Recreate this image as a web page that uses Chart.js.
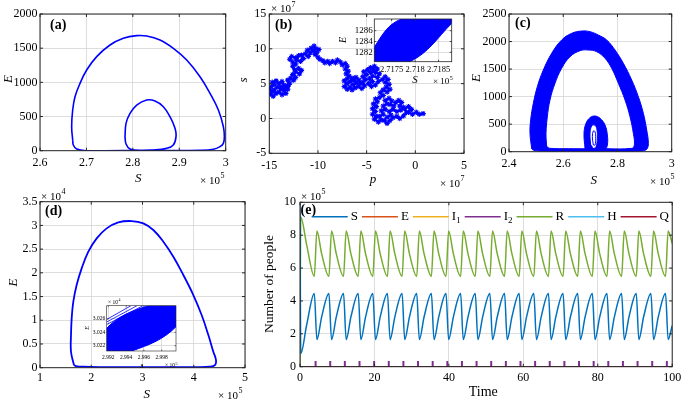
<!DOCTYPE html>
<html>
<head>
<meta charset="utf-8">
<script src="https://cdn.jsdelivr.net/npm/chart.js"></script>
<style>
body { margin: 0; background: #fff; }
#wrap { position: relative; width: 685px; height: 400px; }
canvas { position: absolute; left: 0; top: 0; }
</style>
</head>
<body>
<div id="wrap">
  <canvas id="ca" width="685" height="400"></canvas>
  <canvas id="cb" width="685" height="400"></canvas>
  <canvas id="cbi" width="685" height="400"></canvas>
  <canvas id="cc" width="685" height="400"></canvas>
  <canvas id="cd" width="685" height="400"></canvas>
  <canvas id="cdi" width="685" height="400"></canvas>
  <canvas id="ce" width="685" height="400"></canvas>
</div>
<script>
const SERIF = "'Liberation Serif', 'Times New Roman', serif";
const BLUE = '#0000ff';
const GRID = '#d4d4d4';

// (a) two closed orbits, S in units of 1e5
const aTicksS = [2.6, 2.7, 2.8, 2.9, 3];
const aTicksE = [0, 500, 1000, 1500, 2000];
const aOuterS = [2.6704, 2.6682, 2.6704, 2.6754, 2.6862, 2.7005, 2.7221, 2.7508, 2.7795, 2.8083, 2.8298, 2.8585, 2.8873, 2.9160, 2.9447, 2.9662, 2.9842, 2.9950, 2.9971, 2.9950, 2.9878, 2.9734, 2.9447, 2.86, 2.78, 2.7005, 2.6790, 2.6718, 2.6704];
const aOuterE = [156, 351, 595, 790, 985, 1180, 1376, 1546, 1644, 1683, 1678, 1620, 1498, 1327, 1083, 839, 595, 351, 205, 107, 59, 20, 5, 2, 1, 0, 24, 83, 156];
const aInnerS = [2.7831, 2.7853, 2.7939, 2.8083, 2.8298, 2.8477, 2.8657, 2.8800, 2.8908, 2.8930, 2.8872, 2.8729, 2.8441, 2.8083, 2.7939, 2.7853, 2.7831];
const aInnerE = [205, 400, 546, 668, 741, 727, 644, 498, 327, 205, 83, 34, 10, 5, 24, 98, 205];

// (b) random walk, both axes in units of 1e7
const bTicksP = [-15, -10, -5, 0, 5];
const bTicksS = [-5, 0, 5, 10, 15];
const walkP = [
  -13.0, -13.3, -13.1, -13.5, -13.3, -13.7, -14.0, -13.8, -14.2, -14.5, -14.3, -14.6, -14.9,
  -14.7, -15.0, -14.8, -14.5, -14.7, -14.3, -14.0, -13.7, -13.5, -13.8, -13.4, -13.1, -12.9,
  -13.1, -12.8, -12.5, -12.3, -12.6, -12.3, -11.9, -11.7, -12.0, -12.4, -12.6, -12.3,
  -12.6, -12.9, -12.7, -12.3, -12.0, -12.2, -11.8, -11.5, -11.7, -11.3, -11.0,
  -10.8, -11.1, -10.7, -10.4, -10.2, -10.5, -10.1, -9.9, -10.3, -10.0, -9.8,
  -9.5, -9.3, -9.0, -8.8, -8.5, -8.2, -8.0, -7.7, -7.5, -7.2, -7.0, -7.2, -6.9, -7.1,
  -6.8, -7.0, -7.3, -7.0, -7.3, -7.0, -6.7, -6.5, -6.2, -6.4, -6.0, -6.3, -6.7,
  -6.5, -6.1, -5.8, -5.6, -5.9, -5.5, -5.2, -5.4, -5.1, -5.4, -5.0, -5.3, -4.9,
  -4.6, -4.3, -4.6, -4.2, -3.9, -4.1, -3.7, -3.9, -4.4, -4.7, -4.4, -4.8, -4.5,
  -4.1, -3.8, -3.4, -3.1, -2.8, -3.1, -2.7, -3.0, -2.6, -2.9, -3.3, -3.6, -3.3,
  -3.7, -4.1, -3.9, -4.3, -4.0, -4.4, -4.1, -4.4, -4.0, -4.2, -3.8, -3.5, -3.7,
  -3.3, -3.5, -3.1, -3.3, -2.9, -3.1, -2.7, -2.4, -2.6, -2.2, -2.0, -1.7, -1.4,
  -1.6, -1.2, -1.5, -1.9, -2.3, -2.7, -2.5, -2.9, -3.2, -2.9, -2.6, -2.3, -1.9,
  -1.6, -1.2, -0.9, -1.1, -0.7, -0.4, -0.7, -0.3, 0.1, 0.4, 0.8];
const walkS = [
  4.9, 4.6, 4.2, 4.0, 3.6, 3.4, 3.8, 4.3, 4.5, 4.1, 3.6, 3.2, 3.5,
  3.9, 4.2, 4.6, 4.9, 5.2, 5.4, 5.0, 5.3, 4.8, 4.5, 4.3, 4.6, 5.1,
  5.5, 5.8, 5.5, 5.9, 6.3, 6.7, 6.4, 6.9, 7.2, 7.0, 7.5, 7.8,
  8.1, 8.5, 8.9, 8.7, 9.0, 8.4, 8.2, 8.6, 9.1, 9.3, 8.9,
  9.4, 9.8, 10.1, 10.4, 10.0, 9.7, 9.5, 9.9, 9.2, 8.8, 8.5,
  8.3, 8.0, 8.2, 7.9, 8.2, 8.0, 8.4, 8.1, 7.7, 7.9, 7.5, 7.1, 6.8, 6.4,
  6.1, 5.7, 5.4, 5.0, 4.6, 4.2, 4.5, 4.1, 4.4, 4.9, 5.1, 5.5, 5.3,
  5.8, 5.9, 5.5, 5.0, 4.6, 4.3, 4.7, 5.2, 5.6, 6.0, 6.3, 6.7, 7.0,
  6.6, 7.0, 7.3, 7.5, 7.1, 6.6, 6.4, 5.9, 6.1, 5.7, 5.3, 5.0, 4.6,
  4.8, 5.3, 5.6, 6.0, 5.6, 5.2, 4.9, 4.5, 4.2, 3.8, 4.1, 3.7, 3.3,
  3.0, 2.8, 2.4, 2.1, 1.7, 1.4, 1.0, 0.6, 0.3, -0.1, -0.5, -0.2, 0.3,
  0.6, 1.1, 1.3, 1.8, 2.1, 2.6, 2.9, 2.5, 2.0, 1.8, 2.3, 2.6, 2.3,
  1.8, 1.6, 1.2, 1.0, 1.3, 1.0, 0.5, 0.2, -0.3, -0.7, -0.3, 0.1, 0.3,
  0.0, 0.4, 0.9, 1.4, 1.7, 1.3, 0.9, 0.6, 0.9, 0.6, 0.7];

// (b) inset
const biTicksS = [2.7175, 2.718, 2.7185];
const biTicksE = [1282, 1284, 1286];
const biBandS = [2.71713, 2.71789, 2.71878, 2.71878, 2.71771, 2.71713, 2.71713];
const biBandE = [1280.26, 1280.26, 1287.37, 1288.17, 1288.17, 1282.93, 1280.26];
const biGapS = [[2.71736, 2.71823], [2.71759, 2.71847], [2.71783, 2.71870]];
const biGapE = [1280.26, 1288.17];

// (c) thick band of orbits
const cTicksS = [2.4, 2.6, 2.8, 3];
const cTicksE = [0, 500, 1000, 1500, 2000, 2500];
const cOutS = [2.4836, 2.4774, 2.4799, 2.4897, 2.5045, 2.5266, 2.5574, 2.5942, 2.6311, 2.6680, 2.6987, 2.7295, 2.7602, 2.7910, 2.8217, 2.8524, 2.8770, 2.8955, 2.9078, 2.9139, 2.9078, 2.8893, 2.80, 2.65, 2.52, 2.4920, 2.4836];
const cOutE = [61, 334, 576, 878, 1181, 1483, 1786, 2028, 2149, 2191, 2179, 2118, 2028, 1846, 1605, 1302, 999, 697, 394, 152, 44, 13, 8, 8, 10, 25, 61];
const cInS = [2.5389, 2.5365, 2.5414, 2.5512, 2.5697, 2.5942, 2.6250, 2.6619, 2.6926, 2.7234, 2.7541, 2.7787, 2.8033, 2.8279, 2.8463, 2.8586, 2.8623, 2.8524, 2.75, 2.62, 2.55, 2.5389];
const cInE = [91, 334, 635, 939, 1242, 1514, 1725, 1834, 1846, 1816, 1696, 1514, 1242, 939, 635, 334, 121, 61, 55, 55, 62, 91];
const cRingOutS = [2.6803, 2.6766, 2.6840, 2.6987, 2.7172, 2.7357, 2.7541, 2.7627, 2.7627, 2.7541, 2.7234, 2.6926, 2.6803];
const cRingOutE = [61, 334, 515, 618, 648, 606, 485, 303, 121, 42, 18, 30, 61];
const cRingInS = [2.7011, 2.6987, 2.7049, 2.7147, 2.7234, 2.7258, 2.7209, 2.7110, 2.7011];
const cRingInE = [121, 334, 467, 485, 424, 243, 91, 61, 121];
const cCoreS = [2.7110, 2.7074, 2.7110, 2.7172, 2.7197, 2.7172, 2.7110];
const cCoreE = [121, 273, 376, 364, 243, 121, 121];
const cStreakS = [[2.575, 2.61, 2.65, 2.69, 2.73, 2.765], [2.60, 2.635, 2.67, 2.71, 2.745]];
const cStreakE = [[1870, 2010, 2085, 2095, 2040, 1920], [1815, 1905, 1945, 1935, 1860]];

// (d) one large orbit, E in units of 1e4
const dTicksS = [1, 2, 3, 4, 5];
const dTicksE = [0, 0.5, 1, 1.5, 2, 2.5, 3, 3.5];
const dLoopS = [1.663, 1.605, 1.605, 1.618, 1.650, 1.715, 1.813, 1.943, 2.106, 2.301, 2.528, 2.789, 3.016, 3.211, 3.407, 3.602, 3.797, 3.992, 4.154, 4.285, 4.382, 4.434, 4.415, 4.317, 3.992, 3.2, 2.171, 1.846, 1.702, 1.663];
const dLoopE = [0.056, 0.337, 0.689, 1.040, 1.392, 1.743, 2.094, 2.446, 2.727, 2.938, 3.064, 3.092, 3.043, 2.903, 2.657, 2.340, 1.954, 1.532, 1.110, 0.689, 0.337, 0.162, 0.056, 0.021, 0.014, 0.012, 0.014, 0.021, 0.035, 0.056];

// (d) inset
const diTicksS = [2.992, 2.994, 2.996, 2.998];
const diTicksE = [3.022, 3.024, 3.026];
const diBandS = [2.99182, 2.99463, 2.99961, 2.99961, 2.99650, 2.99182, 2.99182];
const diBandE = [3.02121, 3.02121, 3.02485, 3.02799, 3.02799, 3.02461, 3.02121];
const diLineS = [[2.99182, 2.99455], [2.99182, 2.99523], [2.99182, 2.99590]];
const diLineE = [[3.02593, 3.02799], [3.02555, 3.02799], [3.02518, 3.02799]];
const diGapS = [[2.99275, 2.99961], [2.99182, 2.99961]];
const diGapE = [[3.02121, 3.02624], [3.02300, 3.02870]];

// (e) time series, people in units of 1e5
const eTicksT = [0, 20, 40, 60, 80, 100];
const eTicksN = [0, 2, 4, 6, 8, 10];
const eNames = ['S', 'E', 'I_1', 'I_2', 'R', 'H', 'Q'];
const eColors = ['#0072BD', '#D95319', '#EDB120', '#7E2F8E', '#77AC30', '#4DBEEE', '#A2142F'];
const eTime = [0, 0.2, 1.8, 3.84,
  4.54, 5.84, 7.77, 8.47, 9.77, 11.70, 12.40, 13.70, 15.64,
  16.34, 17.64, 19.57, 20.27, 21.57, 23.50, 24.20, 25.50, 27.43,
  28.13, 29.43, 31.36, 32.06, 33.36, 35.30, 36.00, 37.30, 39.23,
  39.93, 41.23, 43.16, 43.86, 45.16, 47.09, 47.79, 49.09, 51.02,
  51.72, 53.02, 54.96, 55.66, 56.96, 58.89, 59.59, 60.89, 62.82,
  63.52, 64.82, 66.75, 67.45, 68.75, 70.68, 71.38, 72.68, 74.62,
  75.32, 76.62, 78.55, 79.25, 80.55, 82.48, 83.18, 84.48, 86.41,
  87.11, 88.41, 90.34, 91.04, 92.34, 94.28, 94.98, 96.28, 98.21,
  98.91, 100];
const eS = [9.9, 0.8, 2.55, 4.45,
  1.65, 3.05, 4.45, 1.65, 3.05, 4.45, 1.65, 3.05, 4.45,
  1.65, 3.05, 4.45, 1.65, 3.05, 4.45, 1.65, 3.05, 4.45,
  1.65, 3.05, 4.45, 1.65, 3.05, 4.45, 1.65, 3.05, 4.45,
  1.65, 3.05, 4.45, 1.65, 3.05, 4.45, 1.65, 3.05, 4.45,
  1.65, 3.05, 4.45, 1.65, 3.05, 4.45, 1.65, 3.05, 4.45,
  1.65, 3.05, 4.45, 1.65, 3.05, 4.45, 1.65, 3.05, 4.45,
  1.65, 3.05, 4.45, 1.65, 3.05, 4.45, 1.65, 3.05, 4.45,
  1.65, 3.05, 4.45, 1.65, 3.05, 4.45, 1.65, 3.05, 4.45,
  1.65, 2.5];
const eR = [0, 9.1, 7.4, 5.5,
  8.25, 6.85, 5.5, 8.25, 6.85, 5.5, 8.25, 6.85, 5.5,
  8.25, 6.85, 5.5, 8.25, 6.85, 5.5, 8.25, 6.85, 5.5,
  8.25, 6.85, 5.5, 8.25, 6.85, 5.5, 8.25, 6.85, 5.5,
  8.25, 6.85, 5.5, 8.25, 6.85, 5.5, 8.25, 6.85, 5.5,
  8.25, 6.85, 5.5, 8.25, 6.85, 5.5, 8.25, 6.85, 5.5,
  8.25, 6.85, 5.5, 8.25, 6.85, 5.5, 8.25, 6.85, 5.5,
  8.25, 6.85, 5.5, 8.25, 6.85, 5.5, 8.25, 6.85, 5.5,
  8.25, 6.85, 5.5, 8.25, 6.85, 5.5, 8.25, 6.85, 5.5,
  8.25, 7.5];
const eFlatT = [0, 100];
const eFlatV = [0, 0];
const eSpikeT = [4.19, 8.12, 12.05, 15.99, 19.92, 23.85, 27.78, 31.71, 35.65, 39.58, 43.51, 47.44, 51.37,
  55.31, 59.24, 63.17, 67.10, 71.03, 74.97, 78.90, 82.83, 86.76, 90.69, 94.63, 98.56];
const eSpikeH = 0.17;

Chart.defaults.font.family = SERIF;

const pts = (xs, ys) => xs.map((x, i) => ({ x, y: ys[i] }));

function curve(xs, ys, color = BLUE, extra = {}) {
    return Object.assign({
        data: pts(xs, ys), showLine: true, borderColor: color, backgroundColor: color,
        borderWidth: 1.6, pointRadius: 0, tension: 0.4, fill: false
    }, extra);
}

function band(outS, outE, inS, inE, extra = {}) {
    // outer loop followed by the inner loop run backwards leaves a hole
    return curve(outS.concat(inS.slice().reverse()), outE.concat(inE.slice().reverse()), BLUE,
        Object.assign({ fill: 'shape', borderWidth: 1 }, extra));
}

function drawNote(c, n) {
    const size = n.size || 12;
    const style = n.style || '';
    c.save();
    c.translate(n.x, n.y);
    if (n.rot) c.rotate(-Math.PI / 2);
    c.fillStyle = '#000';
    c.textBaseline = 'middle';
    c.textAlign = 'left';
    c.font = `${style} ${size}px ${SERIF}`;
    const w = c.measureText(n.t).width;
    const supSize = n.supSize || Math.round(size * 0.7);
    let supW = 0;
    if (n.sup) {
        c.font = `${supSize}px ${SERIF}`;
        supW = c.measureText(n.sup).width;
    }
    const x0 = n.align === 'left' ? 0 : -(w + supW) / 2;
    c.font = `${style} ${size}px ${SERIF}`;
    c.fillText(n.t, x0, 0);
    if (n.sup) {
        c.font = `${supSize}px ${SERIF}`;
        c.fillText(n.sup, x0 + w + 0.5, -size * 0.42);
    }
    c.restore();
}

function deco(notes, opt) {
    return {
        id: 'deco',
        beforeDraw(chart) {
            if (!opt.white) return;
            const a = chart.chartArea;
            chart.ctx.save();
            chart.ctx.fillStyle = '#fff';
            chart.ctx.fillRect(a.left, a.top, a.right - a.left, a.bottom - a.top);
            chart.ctx.restore();
        },
        afterDraw(chart) {
            const a = chart.chartArea;
            const c = chart.ctx;
            const sx = chart.scales.x, sy = chart.scales.y;
            const tl = opt.tick || 3;
            c.save();
            c.strokeStyle = '#262626';
            c.lineWidth = opt.frame || 1;
            c.strokeRect(a.left, a.top, a.right - a.left, a.bottom - a.top);
            c.beginPath();
            sx.ticks.forEach(t => {
                const p = sx.getPixelForValue(t.value);
                c.moveTo(p, a.bottom); c.lineTo(p, a.bottom - tl);
                c.moveTo(p, a.top); c.lineTo(p, a.top + tl);
            });
            sy.ticks.forEach(t => {
                const p = sy.getPixelForValue(t.value);
                c.moveTo(a.left, p); c.lineTo(a.left + tl, p);
                c.moveTo(a.right, p); c.lineTo(a.right - tl, p);
            });
            c.stroke();
            notes.forEach(n => drawNote(c, n));
            if (opt.after) opt.after(chart);
            c.restore();
        }
    };
}

function axis(range, ticks, size, pad) {
    return {
        type: 'linear', min: range[0], max: range[1],
        afterBuildTicks: s => { s.ticks = ticks.map(v => ({ value: v })); },
        grid: { color: GRID, lineWidth: 0.8, drawTicks: false },
        border: { display: false },
        ticks: {
            font: { family: SERIF, size }, color: '#000', padding: pad,
            maxRotation: 0, autoSkip: false, callback: v => String(v)
        }
    };
}

function makeChart(id, box, xAx, yAx, datasets, notes, opt = {}) {
    const yw = opt.yw || 40;
    const xh = opt.xh || 22;
    xAx.afterFit = s => { s.height = xh; };
    yAx.afterFit = s => { s.width = yw; };
    return new Chart(document.getElementById(id), {
        type: 'scatter',
        data: { datasets },
        options: {
            responsive: false, animation: false, devicePixelRatio: 1, events: [],
            layout: { padding: { left: box[0] - yw, top: box[1], right: 685 - box[2], bottom: 400 - box[3] - xh } },
            plugins: { legend: { display: false }, tooltip: { enabled: false } },
            scales: { x: xAx, y: yAx }
        },
        plugins: [deco(notes, opt)]
    });
}

// (a)
makeChart('ca', [40, 14, 225.7, 150.7],
    axis([2.6, 3], aTicksS, 12, 5), axis([0, 2000], aTicksE, 12, 2.5),
    [curve(aOuterS, aOuterE), curve(aInnerS, aInnerE)],
    [
        { t: '(a)', x: 50, y: 25, size: 14, style: 'bold', align: 'left' },
        { t: 'S', x: 138.3, y: 178.5, size: 13, style: 'italic' },
        { t: '× 10', sup: '5', x: 200, y: 181, size: 11, align: 'left' },
        { t: 'E', x: 8.5, y: 79, size: 13, style: 'italic', rot: true }
    ]);

// (b)
makeChart('cb', [269.3, 14, 464, 153.3],
    axis([-15, 5], bTicksP, 12, 5), axis([-5, 15], bTicksS, 12, 3),
    [curve(walkP, walkS, BLUE, { tension: 0, borderWidth: 2, pointRadius: 2.7, pointStyle: 'star', pointBorderColor: BLUE, pointBorderWidth: 1.1 })],
    [
        { t: '(b)', x: 275, y: 25, size: 14, style: 'bold', align: 'left' },
        { t: '× 10', sup: '7', x: 271, y: 9.5, size: 11, align: 'left' },
        { t: 'p', x: 373, y: 180, size: 13, style: 'italic' },
        { t: '× 10', sup: '7', x: 440, y: 184, size: 11, align: 'left' },
        { t: 's', x: 244, y: 80, size: 13, style: 'italic', rot: true }
    ]);

// (b) inset
makeChart('cbi', [374.3, 19, 451.7, 61.7],
    axis([2.71713, 2.71878], biTicksS, 8.5, 3), axis([1280.26, 1288.17], biTicksE, 9, 1.6),
    [band(biBandS, biBandE, [], [])].concat(biGapS.map(g => curve(g, biGapE, '#ffffff', { tension: 0, borderWidth: 0.7 }))),
    [
        { t: 'E', x: 343.5, y: 40, size: 10, style: 'italic', rot: true },
        { t: 'S', x: 415, y: 80, size: 11, style: 'italic' },
        { t: '× 10', sup: '5', x: 433, y: 82, size: 9, align: 'left' }
    ], { white: true, tick: 2, frame: 0.8, yw: 28, xh: 16 });

// (c)
makeChart('cc', [509, 14, 671.7, 151.7],
    axis([2.4, 3], cTicksS, 12, 5), axis([0, 2500], cTicksE, 12, 2.5),
    [
        band(cOutS, cOutE, cInS, cInE),
        band(cRingOutS, cRingOutE, cRingInS, cRingInE),
        curve(cCoreS, cCoreE, BLUE, { borderWidth: 1 })
    ].concat(cStreakS.map((s, i) => curve(s, cStreakE[i], 'rgba(255,255,255,0.75)', { borderWidth: 0.6 }))),
    [
        { t: '(c)', x: 515, y: 23, size: 14, style: 'bold', align: 'left' },
        { t: 'S', x: 593.7, y: 180.5, size: 13, style: 'italic' },
        { t: '× 10', sup: '5', x: 650, y: 182, size: 11, align: 'left' },
        { t: 'E', x: 476.7, y: 78, size: 13, style: 'italic', rot: true }
    ]);

// (d)
makeChart('cd', [40, 201.7, 245, 367.7],
    axis([1, 5], dTicksS, 12, 3.4), axis([0, 3.5], dTicksE, 12, 2.5),
    [curve(dLoopS, dLoopE, BLUE, { borderWidth: 1.8 })],
    [
        { t: '× 10', sup: '4', x: 41, y: 196.7, size: 11, align: 'left' },
        { t: '(d)', x: 45, y: 211, size: 14, style: 'bold', align: 'left' },
        { t: 'S', x: 146.7, y: 395, size: 13, style: 'italic' },
        { t: '× 10', sup: '5', x: 218, y: 396, size: 11, align: 'left' },
        { t: 'E', x: 13.3, y: 282.5, size: 13, style: 'italic', rot: true }
    ], { xh: 20 });

// (d) inset
makeChart('cdi', [106.7, 305.7, 176, 351],
    axis([2.99182, 2.99961], diTicksS, 5.5, 3.7), axis([3.02121, 3.02799], diTicksE, 5.5, 1.5),
    [band(diBandS, diBandE, [], [])]
        .concat(diLineS.map((s, i) => curve(s, diLineE[i], BLUE, { tension: 0, borderWidth: 0.8 })))
        .concat(diGapS.map((s, i) => curve(s, diGapE[i], '#ffffff', { tension: 0, borderWidth: 0.6 }))),
    [
        { t: '× 10', sup: '4', x: 108, y: 302.5, size: 5.5, align: 'left' },
        { t: 'E', x: 87.3, y: 328, size: 6, style: 'italic', rot: true },
        { t: 'S', x: 141.7, y: 366, size: 6, style: 'italic' },
        { t: '× 10', sup: '5', x: 165, y: 366, size: 5.5, align: 'left' }
    ], { white: true, tick: 1.5, frame: 0.6, yw: 18, xh: 12 });

// (e)
function drawLegend(chart) {
    const c = chart.ctx;
    const y = 216.7;
    let x = 311.7;
    eNames.forEach((name, i) => {
        c.strokeStyle = eColors[i];
        c.lineWidth = 1.5;
        c.beginPath();
        c.moveTo(x, y);
        c.lineTo(x + 36, y);
        c.stroke();
        x += 39;
        const [base, sub] = name.split('_');
        c.fillStyle = '#000';
        c.textBaseline = 'middle';
        c.textAlign = 'left';
        c.font = `13px ${SERIF}`;
        c.fillText(base, x, y);
        x += c.measureText(base).width;
        if (sub) {
            c.font = `9px ${SERIF}`;
            c.fillText(sub, x, y + 4);
            x += c.measureText(sub).width;
        }
        x += 4;
    });
}

const eFlat = (color, order) => curve(eFlatT, eFlatV, color, { tension: 0, borderWidth: 1.5, order });
makeChart('ce', [300, 202.3, 673.3, 366.7],
    axis([0, 100], eTicksT, 12, 3.8), axis([0, 10], eTicksN, 12, 4),
    [
        curve(eTime, eS, eColors[0], { tension: 0, cubicInterpolationMode: 'monotone', borderWidth: 1.5, order: 5 }),
        eFlat(eColors[1], 4),
        eFlat(eColors[2], 3),
        {
            data: eSpikeT.map(t => ({ x: t, y: eSpikeH })), showLine: false,
            pointStyle: 'line', pointRotation: 90, pointRadius: 3,
            pointBorderColor: eColors[3], pointBackgroundColor: eColors[3], pointBorderWidth: 2, order: 1
        },
        curve(eTime, eR, eColors[4], { tension: 0, cubicInterpolationMode: 'monotone', borderWidth: 1.5, order: 6 }),
        eFlat(eColors[5], 2),
        eFlat(eColors[6], 0)
    ],
    [
        { t: '× 10', sup: '5', x: 301, y: 196.7, size: 11, align: 'left' },
        { t: '(e)', x: 300.5, y: 210, size: 14, style: 'bold', align: 'left' },
        { t: 'Time', x: 483.3, y: 392, size: 14 },
        { t: 'Number of people', x: 269.5, y: 284, size: 13.5, rot: true }
    ], { after: drawLegend, xh: 20 });
</script>
</body>
</html>
